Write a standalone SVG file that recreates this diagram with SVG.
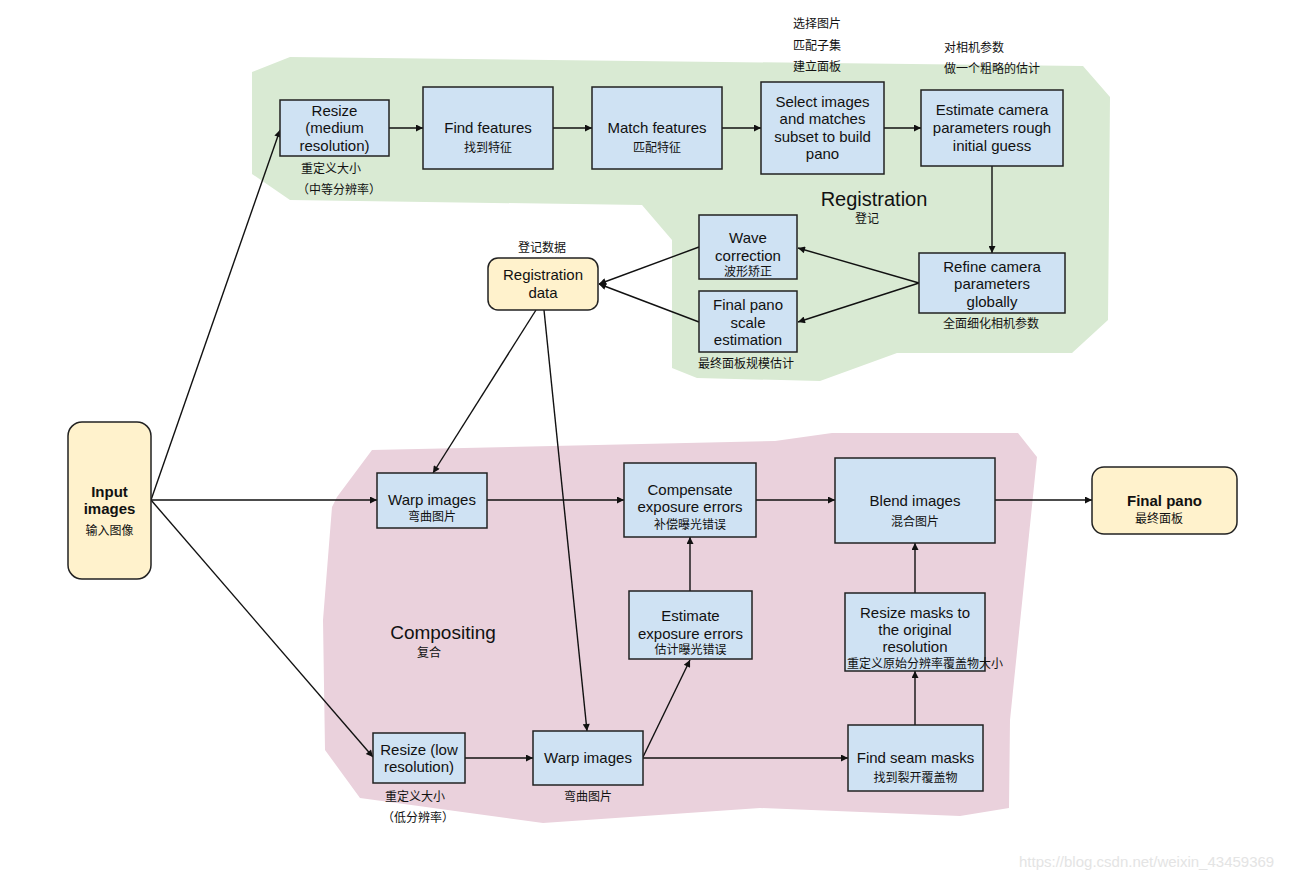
<svg xmlns="http://www.w3.org/2000/svg" width="1300" height="880" viewBox="0 0 1300 880">
<defs>
<style>
.bg{fill:#ffffff}
.box{fill:#cfe2f3;stroke:#222;stroke-width:1.5}
.term{fill:#fff2cc;stroke:#222;stroke-width:1.5}
.en{font-family:"Liberation Sans",Arial,sans-serif;font-size:15px;fill:#111;text-anchor:middle}
.enb{font-family:"Liberation Sans",Arial,sans-serif;font-size:15px;font-weight:bold;fill:#111;text-anchor:middle}
.zh{font-family:"Noto Sans CJK SC","Liberation Sans",sans-serif;font-size:12px;fill:#111;text-anchor:middle}
.zhl{font-family:"Noto Sans CJK SC","Liberation Sans",sans-serif;font-size:12px;fill:#111}
.big{font-family:"Liberation Sans",Arial,sans-serif;font-size:20px;fill:#111;text-anchor:middle}
.edge{fill:none;stroke:#111;stroke-width:1.4;marker-end:url(#arr)}
.wm{font-family:"Liberation Sans",Arial,sans-serif;font-size:15px;fill:#e4e4e4}
</style>
<marker id="arr" viewBox="0 0 10 10" refX="10" refY="5" markerWidth="9" markerHeight="7" markerUnits="userSpaceOnUse" orient="auto">
<path d="M0,0 L10,5 L0,10 z" fill="#111"/>
</marker>
</defs>
<rect class="bg" x="0" y="0" width="1300" height="880"/>
<g id="regions">
<polygon id="registration-area" fill="#d9ead3" points="252,72 290,57 1083,66 1110,97 1108,320 1072,353 897,353 820,381 697,378 672,368 672,240 642,205 290,200 252,174"/>
<polygon id="compositing-area" fill="#ead1dc" points="372,450 775,441 832,433 1018,433 1037,457 1010,720 1009,808 960,816 760,808 543,823 360,798 325,750 323,620 332,507 337,497"/>
<text class="big" x="874" y="206">Registration</text>
<text class="zh" x="867" y="223">登记</text>
<text class="big" x="443" y="639" style="font-size:19px">Compositing</text>
<text class="zh" x="429" y="657">复合</text>
</g>
<g id="connectors">
<line class="edge" x1="151" y1="500" x2="280" y2="130"/>
<line class="edge" x1="151" y1="500" x2="377" y2="500"/>
<line class="edge" x1="151" y1="500" x2="373" y2="757"/>
<line class="edge" x1="389" y1="128" x2="423" y2="128"/>
<line class="edge" x1="553" y1="128" x2="592" y2="128"/>
<line class="edge" x1="722" y1="128" x2="761" y2="128"/>
<line class="edge" x1="884" y1="128" x2="921" y2="128"/>
<line class="edge" x1="992" y1="166" x2="992" y2="253"/>
<line class="edge" x1="919" y1="283" x2="798" y2="248"/>
<line class="edge" x1="919" y1="283" x2="798" y2="322"/>
<line class="edge" x1="699" y1="247" x2="599" y2="284"/>
<line class="edge" x1="699" y1="322" x2="599" y2="284"/>
<line class="edge" x1="536" y1="310" x2="433" y2="473"/>
<line class="edge" x1="544" y1="310" x2="587" y2="731"/>
<line class="edge" x1="487" y1="500" x2="624" y2="500"/>
<line class="edge" x1="756" y1="500" x2="835" y2="500"/>
<line class="edge" x1="995" y1="500" x2="1092" y2="500"/>
<line class="edge" x1="690" y1="591" x2="690" y2="537"/>
<line class="edge" x1="915" y1="593" x2="915" y2="543"/>
<line class="edge" x1="915" y1="725" x2="915" y2="671"/>
<line class="edge" x1="465" y1="758" x2="533" y2="758"/>
<line class="edge" x1="643" y1="758" x2="848" y2="758"/>
<line class="edge" x1="643" y1="757" x2="690" y2="660"/>
</g>
<g id="resize-medium">
<rect class="box" x="280" y="100" width="109" height="56"/>
<text class="en" x="334.5" y="116">Resize</text>
<text class="en" x="334.5" y="133">(medium</text>
<text class="en" x="334.5" y="151">resolution)</text>
<text class="zhl" x="301" y="173">重定义大小</text>
<text class="zhl" x="297" y="194">（中等分辨率）</text>
</g>
<g id="find-features">
<rect class="box" x="423" y="87" width="130" height="82"/>
<text class="en" x="488" y="133">Find features</text>
<text class="zh" x="488" y="152">找到特征</text>
</g>
<g id="match-features">
<rect class="box" x="592" y="87" width="130" height="82"/>
<text class="en" x="657" y="133">Match features</text>
<text class="zh" x="657" y="152">匹配特征</text>
</g>
<g id="select-images">
<rect class="box" x="761" y="82" width="123" height="92"/>
<text class="en" x="822.5" y="107">Select images</text>
<text class="en" x="822.5" y="124">and matches</text>
<text class="en" x="822.5" y="142">subset to build</text>
<text class="en" x="822.5" y="159">pano</text>
<text class="zhl" x="793" y="28">选择图片</text>
<text class="zhl" x="793" y="50">匹配子集</text>
<text class="zhl" x="793" y="71">建立面板</text>
</g>
<g id="estimate-camera">
<rect class="box" x="921" y="90" width="142" height="76"/>
<text class="en" x="992" y="115">Estimate camera</text>
<text class="en" x="992" y="133">parameters rough</text>
<text class="en" x="992" y="151">initial guess</text>
<text class="zhl" x="944" y="52">对相机参数</text>
<text class="zhl" x="944" y="73">做一个粗略的估计</text>
</g>
<g id="refine-camera">
<rect class="box" x="919" y="253" width="146" height="60"/>
<text class="en" x="992" y="272">Refine camera</text>
<text class="en" x="992" y="289">parameters</text>
<text class="en" x="992" y="307">globally</text>
<text class="zh" x="991" y="328">全面细化相机参数</text>
</g>
<g id="wave-correction">
<rect class="box" x="699" y="215" width="98" height="64"/>
<text class="en" x="748" y="243">Wave</text>
<text class="en" x="748" y="261">correction</text>
<text class="zh" x="748" y="276">波形矫正</text>
</g>
<g id="final-pano-scale">
<rect class="box" x="699" y="291" width="98" height="61"/>
<text class="en" x="748" y="310">Final pano</text>
<text class="en" x="748" y="328">scale</text>
<text class="en" x="748" y="345">estimation</text>
<text class="zh" x="746" y="368">最终面板规模估计</text>
</g>
<g id="registration-data">
<rect class="term" x="488" y="258" width="110" height="52" rx="10"/>
<text class="en" x="543" y="280">Registration</text>
<text class="en" x="543" y="298">data</text>
<text class="zh" x="542" y="252">登记数据</text>
</g>
<g id="input-images">
<rect class="term" x="68" y="422" width="83" height="157" rx="14"/>
<text class="enb" x="109.5" y="497">Input</text>
<text class="enb" x="109.5" y="514">images</text>
<text class="zh" x="109.5" y="535">输入图像</text>
</g>
<g id="warp-images-top">
<rect class="box" x="377" y="473" width="110" height="55"/>
<text class="en" x="432" y="505">Warp images</text>
<text class="zh" x="432" y="521">弯曲图片</text>
</g>
<g id="compensate-exposure">
<rect class="box" x="624" y="463" width="132" height="74"/>
<text class="en" x="690" y="495">Compensate</text>
<text class="en" x="690" y="512">exposure errors</text>
<text class="zh" x="690" y="529">补偿曝光错误</text>
</g>
<g id="blend-images">
<rect class="box" x="835" y="458" width="160" height="85"/>
<text class="en" x="915" y="506">Blend images</text>
<text class="zh" x="915" y="526">混合图片</text>
</g>
<g id="final-pano">
<rect class="term" x="1092" y="467" width="145" height="67" rx="12"/>
<text class="enb" x="1164.5" y="506">Final pano</text>
<text class="zh" x="1159" y="523">最终面板</text>
</g>
<g id="estimate-exposure">
<rect class="box" x="629" y="591" width="123" height="68"/>
<text class="en" x="690.5" y="621">Estimate</text>
<text class="en" x="690.5" y="639">exposure errors</text>
<text class="zh" x="690.5" y="654">估计曝光错误</text>
</g>
<g id="resize-masks">
<rect class="box" x="845" y="593" width="140" height="78"/>
<text class="en" x="915" y="618">Resize masks to</text>
<text class="en" x="915" y="635">the original</text>
<text class="en" x="915" y="652">resolution</text>
<text class="zh" x="925" y="668">重定义原始分辨率覆盖物大小</text>
</g>
<g id="resize-low">
<rect class="box" x="373" y="733" width="92" height="50"/>
<text class="en" x="419" y="755">Resize (low</text>
<text class="en" x="419" y="772">resolution)</text>
<text class="zh" x="415" y="801">重定义大小</text>
<text class="zh" x="418" y="822">（低分辨率）</text>
</g>
<g id="warp-images-bottom">
<rect class="box" x="533" y="731" width="110" height="54"/>
<text class="en" x="588" y="763">Warp images</text>
<text class="zh" x="588" y="801">弯曲图片</text>
</g>
<g id="find-seam-masks">
<rect class="box" x="848" y="725" width="135" height="66"/>
<text class="en" x="915.5" y="763">Find seam masks</text>
<text class="zh" x="915.5" y="782">找到裂开覆盖物</text>
</g>
<text class="wm" x="1019" y="867">https://blog.csdn.net/weixin_43459369</text>
</svg>
